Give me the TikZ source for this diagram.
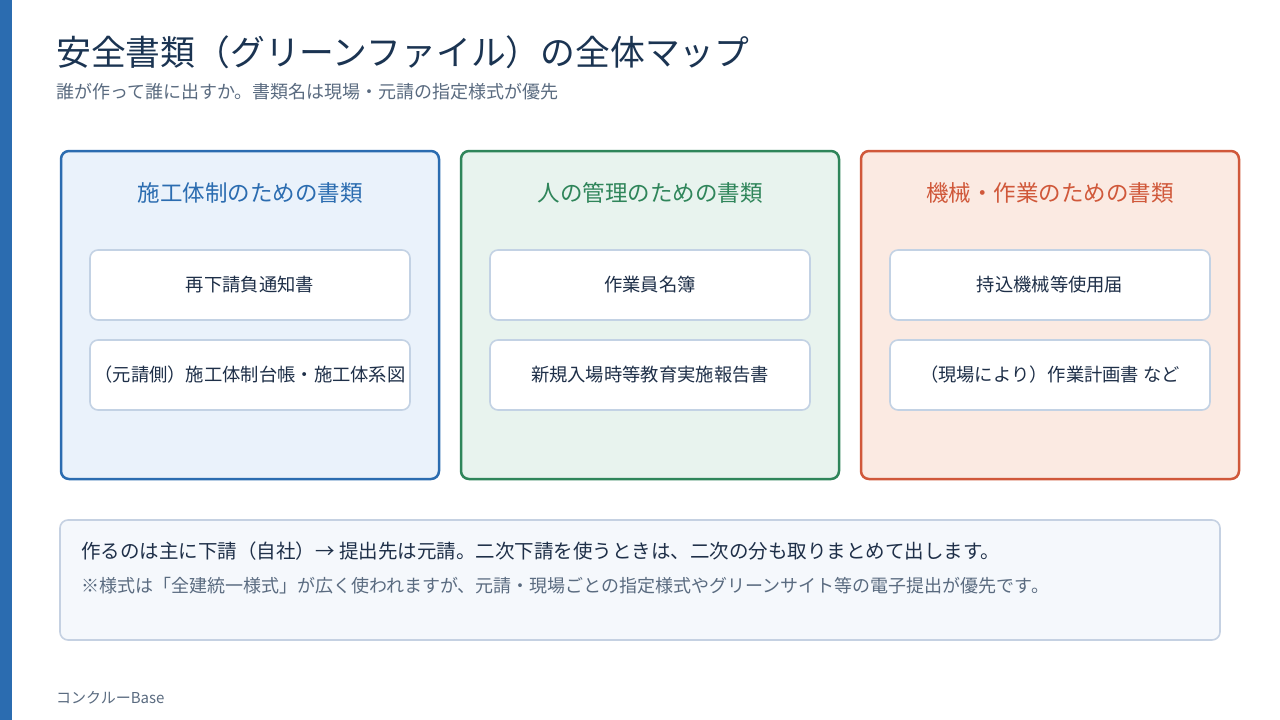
\documentclass[tikz,border=0pt]{standalone}
\usepackage{fontspec}
\setmainfont{Noto Sans CJK JP}
\definecolor{barblue}{HTML}{2B6CB0}
\definecolor{titlecol}{HTML}{1B3452}
\definecolor{subcol}{HTML}{5A6B80}
\definecolor{itemcol}{HTML}{1E2F48}
\definecolor{bluefill}{HTML}{EAF2FB}
\definecolor{greenline}{HTML}{2F855A}
\definecolor{greenfill}{HTML}{E8F3EE}
\definecolor{orangeline}{HTML}{D0583A}
\definecolor{orangefill}{HTML}{FBEAE2}
\definecolor{itemline}{HTML}{C3D2E4}
\definecolor{notefill}{HTML}{F5F8FC}
\definecolor{noteline}{HTML}{C5D1E2}
\begin{document}
\begin{tikzpicture}[x=1pt,y=-1pt,
  cardbox/.style={draw, line width=2.5pt, rounded corners=8pt, minimum width=378pt, minimum height=328pt, inner sep=0pt},
  cardhead/.style={inner sep=0pt, font=\fontsize{22.5}{26}\selectfont},
  itembox/.style={draw=itemline, fill=white, line width=1.6pt, rounded corners=8pt, minimum width=320pt, minimum height=70pt, inner sep=0pt, text=itemcol, font=\fontsize{18.3}{22}\selectfont},
  plaintext/.style={inner sep=0pt, anchor=base west}
]
\useasboundingbox (0,0) rectangle (1280,720);
\fill[white] (0,0) rectangle (1280,720);
\fill[barblue] (0,0) rectangle (12,720);

\node[plaintext, text=titlecol, font=\fontsize{34.8}{40}\selectfont] (title) at (56,65) {安全書類（グリーンファイル）の全体マップ};
\node[plaintext, text=subcol, font=\fontsize{18}{21}\selectfont] (subtitle) at (56,98.5) {誰が作って誰に出すか。書類名は現場・元請の指定様式が優先};

% cards
\node[cardbox, draw=barblue, fill=bluefill] (card1) at (250,315) {};
\node[cardbox, draw=greenline, fill=greenfill] (card2) at (650,315) {};
\node[cardbox, draw=orangeline, fill=orangefill] (card3) at (1050,315) {};

\node[cardhead, text=barblue] (head1) at (250,193) {施工体制のための書類};
\node[cardhead, text=greenline] (head2) at (650,193) {人の管理のための書類};
\node[cardhead, text=orangeline] (head3) at (1050,193) {機械・作業のための書類};

\node[itembox] (a1) at (250,285) {再下請負通知書};
\node[itembox] (a2) at (250,375) {（元請側）施工体制台帳・施工体系図};
\node[itembox] (b1) at (650,285) {作業員名簿};
\node[itembox] (b2) at (650,375) {新規入場時等教育実施報告書};
\node[itembox] (c1) at (1050,285) {持込機械等使用届};
\node[itembox] (c2) at (1050,375) {（現場により）作業計画書 など};

% note
\node[draw=noteline, fill=notefill, line width=1.6pt, rounded corners=8pt, minimum width=1160pt, minimum height=120pt, inner sep=0pt] (note) at (640,580) {};
\node[plaintext, text=itemcol, font=\fontsize{19.5}{22}\selectfont] (note1) at (81,558) {作るのは主に下請（自社）→ 提出先は元請。二次下請を使うときは、二次の分も取りまとめて出します。};
\node[plaintext, text=subcol, font=\fontsize{18}{21}\selectfont] (note2) at (81,592) {※様式は「全建統一様式」が広く使われますが、元請・現場ごとの指定様式やグリーンサイト等の電子提出が優先です。};

\node[plaintext, text=subcol, font=\fontsize{15}{17}\selectfont] (footer) at (56,703) {コンクルーBase};
\end{tikzpicture}
\end{document}
